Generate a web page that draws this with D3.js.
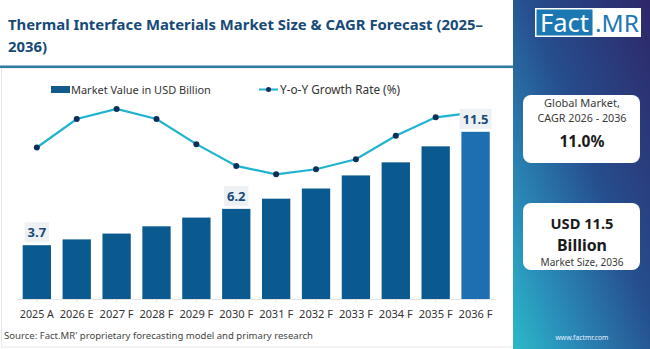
<!DOCTYPE html>
<html><head><meta charset="utf-8">
<script src="https://cdn.jsdelivr.net/npm/d3@7"></script>
<style>
html,body{margin:0;padding:0;background:#fff;}
svg{display:block;font-family:"Noto Sans",Lato,sans-serif;}
</style></head>
<body>
<svg id="c" width="650" height="349"></svg>
<script>
const categories = ["2025 A","2026 E","2027 F","2028 F","2029 F","2030 F","2031 F","2032 F","2033 F","2034 F","2035 F","2036 F"];
const marketValues = [3.7,4.1,4.5,5.0,5.6,6.2,6.9,7.6,8.5,9.4,10.5,11.5];
const growthRates = [9.5,11.2,11.8,11.2,9.7,8.4,7.9,8.2,8.8,10.2,11.3,11.6];
const labeledCategories = ["2025 A","2030 F","2036 F"];
const titleLines = ["Thermal Interface Materials Market Size & CAGR Forecast (2025–","2036)"];
const legendLabels = ["Market Value in USD Billion","Y-o-Y Growth Rate (%)"];
const sourceText = "Source: Fact.MR' proprietary forecasting model and primary research";
const cagrCard = ["Global Market,","CAGR 2026 - 2036","11.0%"];
const sizeCard = ["USD 11.5","Billion","Market Size, 2036"];

const svg = d3.select("#c");
const W = 650, H = 349;

function fit(sel, w){
  const n = sel.node(); const l = n.getComputedTextLength();
  const fs = parseFloat(sel.attr("font-size"));
  sel.attr("font-size", (fs*w/l).toFixed(2));
  return sel;
}

// defs
const defs = svg.append("defs");
const g1 = defs.append("linearGradient").attr("id","pg").attr("x1","1").attr("y1","0").attr("x2","0").attr("y2","1");
g1.append("stop").attr("offset","0").attr("stop-color","#2e2768");
g1.append("stop").attr("offset","0.45").attr("stop-color","#264e8e");
g1.append("stop").attr("offset","0.8").attr("stop-color","#2a8fbb");
g1.append("stop").attr("offset","1").attr("stop-color","#2bbac6");

// chart frame
svg.append("rect").attr("x",1.5).attr("y",68).attr("width",512).attr("height",279).attr("fill","#fff").attr("stroke","#e6e6e6").attr("stroke-width",1);

// title
const title = svg.append("text").attr("x",8).attr("fill","#174a78").attr("font-weight",700);
title.append("tspan").attr("x",8).attr("y",30).text(titleLines[0]);
title.append("tspan").attr("x",8).attr("y",52).text(titleLines[1]);
title.attr("font-size",16);
{
  const l = title.select("tspan").node().getComputedTextLength();
  title.attr("font-size",(16*475/l).toFixed(2));
}
svg.append("rect").attr("x",0).attr("y",65.5).attr("width",514).attr("height",2.5).attr("fill","#2b7ea1");

// right panel
svg.append("rect").attr("x",513).attr("y",0).attr("width",137).attr("height",H).attr("fill","url(#pg)");
// logo
svg.append("rect").attr("x",535).attr("y",8).attr("width",106).attr("height",29).attr("fill","#fff");
svg.append("rect").attr("x",536.5).attr("y",9.5).attr("width",56).attr("height",26).attr("fill","#1b78b2");
fit(svg.append("text").attr("x",540).attr("y",32).attr("font-size",24).attr("fill","#fff").text("Fact"),49);
fit(svg.append("text").attr("x",595).attr("y",32).attr("font-size",24).attr("fill","#1b78b2").text(".MR"),44);

// cards
function card(y,h){ svg.append("rect").attr("x",523).attr("y",y).attr("width",117).attr("height",h).attr("rx",8).attr("fill","#fff"); }
card(95,68);
card(203,67);
const cx = 582;
fit(svg.append("text").attr("x",cx).attr("y",107).attr("text-anchor","middle").attr("font-size",11).attr("fill","#3a3a3a").text(cagrCard[0]),76);
fit(svg.append("text").attr("x",cx).attr("y",122).attr("text-anchor","middle").attr("font-size",11).attr("fill","#3a3a3a").text(cagrCard[1]),89);
fit(svg.append("text").attr("x",cx).attr("y",147).attr("text-anchor","middle").attr("font-size",18).attr("font-weight",700).attr("fill","#1a1a1a").text(cagrCard[2]),45);
fit(svg.append("text").attr("x",cx).attr("y",229).attr("text-anchor","middle").attr("font-size",18).attr("font-weight",700).attr("fill","#1a1a1a").text(sizeCard[0]),63);
fit(svg.append("text").attr("x",cx).attr("y",251).attr("text-anchor","middle").attr("font-size",18).attr("font-weight",700).attr("fill","#1a1a1a").text(sizeCard[1]),50);
fit(svg.append("text").attr("x",cx).attr("y",266).attr("text-anchor","middle").attr("font-size",11).attr("fill","#3a3a3a").text(sizeCard[2]),83);
fit(svg.append("text").attr("x",cx).attr("y",340).attr("text-anchor","middle").attr("font-size",8).attr("fill","#e8f4ff").text("www.factmr.com"),53);

// scales
const x = d3.scaleBand().domain(categories).range([16.7,495.7]).paddingInner(0.29).paddingOuter(0.15);
const y = d3.scaleLinear().domain([0,13]).range([299,110]);
const yg = d3.scaleLinear().domain([5,13]).range([222.8,88.9]);

// legend
svg.append("rect").attr("x",51).attr("y",86).attr("width",19).attr("height",7).attr("fill","#105a8e");
fit(svg.append("text").attr("x",71).attr("y",93.5).attr("font-size",11).attr("fill","#333").text(legendLabels[0]),140);
svg.append("line").attr("x1",259).attr("x2",278).attr("y1",89.5).attr("y2",89.5).attr("stroke","#1fb3cf").attr("stroke-width",2);
svg.append("circle").attr("cx",268.5).attr("cy",89.5).attr("r",2.5).attr("fill","#0e2f5c");
fit(svg.append("text").attr("x",280).attr("y",93.5).attr("font-size",11).attr("fill","#333").text(legendLabels[1]),120);

// bars
svg.append("g").selectAll("rect").data(categories).join("rect")
  .attr("x",d=>x(d)).attr("width",x.bandwidth())
  .attr("y",(d,i)=>y(marketValues[i])).attr("height",(d,i)=>y(0)-y(marketValues[i]))
  .attr("fill",(d,i)=>i===categories.length-1?"#1d6fb1":"#0b5a8f");

// axis
const ax = svg.append("g").attr("transform","translate(0,299)").call(d3.axisBottom(x).tickSize(3).tickPadding(8));
ax.select(".domain").attr("stroke","#e4e4e4").attr("d","M16.7,0.5H495.7");
ax.selectAll(".tick line").attr("stroke","#f0dcc8");
ax.selectAll(".tick text").attr("font-size",11.5).attr("fill","#333").attr("font-family","'Noto Sans',sans-serif").attr("dy","0.71em");
ax.selectAll(".tick text").each(function(){ fit(d3.select(this),34); });

// line
const pts = categories.map((c,i)=>[x(c)+x.bandwidth()/2, yg(growthRates[i])]);
svg.append("path").attr("d",d3.line()(pts)).attr("fill","none").attr("stroke","#1fb3cf").attr("stroke-width",2.2);
svg.append("g").selectAll("circle").data(pts.slice(0,-1)).join("circle")
  .attr("cx",d=>d[0]).attr("cy",d=>d[1]).attr("r",3).attr("fill","#0e2f5c");

// data labels
labeledCategories.forEach(c=>{
  const i = categories.indexOf(c);
  const cxl = x(c)+x.bandwidth()/2;
  const ty = y(marketValues[i]) - 8;
  const t = svg.append("text").attr("x",cxl).attr("y",ty).attr("text-anchor","middle")
    .attr("font-size",13).attr("font-weight",700).attr("fill","#174a78").text(marketValues[i].toFixed(1));
  const bb = t.node().getBBox();
  svg.insert("rect", function(){ return t.node(); }).attr("x",bb.x-3).attr("y",bb.y-1).attr("width",bb.width+6).attr("height",bb.height+2).attr("fill","#eef1f4");
});

// source
fit(svg.append("text").attr("x",4).attr("y",339).attr("font-size",10).attr("fill","#444").text(sourceText),309);
</script>
</body></html>
